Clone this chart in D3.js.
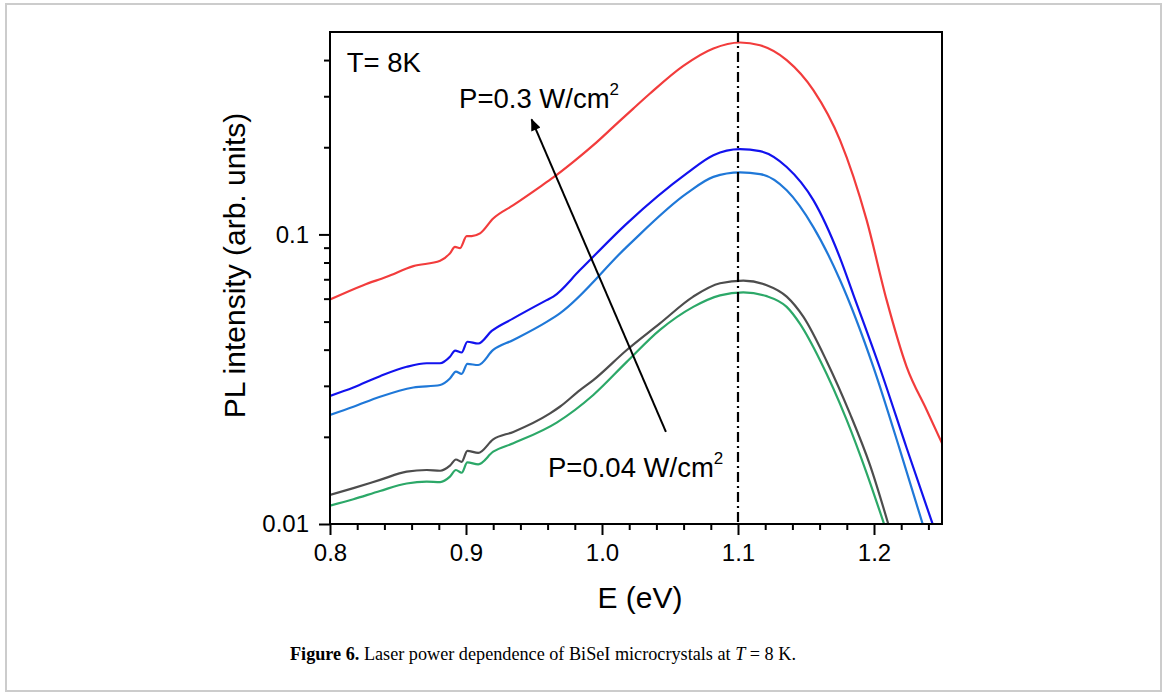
<!DOCTYPE html>
<html>
<head>
<meta charset="utf-8">
<script src="https://cdn.jsdelivr.net/npm/d3@7"></script>
<style>
  html, body { margin: 0; padding: 0; background: #fff; }
  svg { display: block; }
</style>
</head>
<body>
<div id="chart"></div>
<script>
// PL spectra: [E (eV), intensity (arb. units)]
const red = [
  [0.800, 0.0596], [0.8245, 0.0668], [0.8417, 0.0714], [0.8613, 0.0777], [0.881, 0.0811],
  [0.8882, 0.0860], [0.8919, 0.0906], [0.8956, 0.0897], [0.9005, 0.0987], [0.9042, 0.0987],
  [0.9103, 0.1008], [0.920, 0.1135], [0.9348, 0.1262], [0.9544, 0.146], [0.9642, 0.1573],
  [0.9789, 0.178], [0.9936, 0.2033], [1.0083, 0.2351], [1.023, 0.272], [1.0353, 0.3066],
  [1.0598, 0.382], [1.0819, 0.4387], [1.1015, 0.46], [1.1162, 0.450], [1.1358, 0.40],
  [1.1554, 0.315], [1.175, 0.2117], [1.1946, 0.112], [1.2093, 0.0593],
  [1.224, 0.0349], [1.2388, 0.0247], [1.25, 0.019]
];
const blue = [
  [0.800, 0.0277], [0.8172, 0.0296], [0.8368, 0.0324], [0.8564, 0.0349], [0.8711, 0.0359],
  [0.8809, 0.0359], [0.8882, 0.0378], [0.892, 0.0397], [0.8968, 0.0391], [0.901, 0.0426],
  [0.909, 0.042], [0.9189, 0.0464], [0.9348, 0.0513], [0.9593, 0.0593], [0.9642, 0.061],
  [0.9838, 0.0753], [1.0182, 0.109], [1.0623, 0.1624], [1.0819, 0.1878], [1.1015, 0.197],
  [1.1162, 0.194], [1.1358, 0.171], [1.1554, 0.1313], [1.175, 0.083], [1.1848, 0.062],
  [1.2044, 0.0345], [1.224, 0.0183], [1.2431, 0.01]
];
const lightBlue = [
  [0.800, 0.0238], [0.8172, 0.0254], [0.8368, 0.0275], [0.8613, 0.0296], [0.881, 0.0302],
  [0.8882, 0.0318], [0.8926, 0.0336], [0.8968, 0.033], [0.901, 0.0357], [0.909, 0.0354],
  [0.920, 0.0399], [0.9348, 0.0432], [0.9593, 0.0499], [0.969, 0.0534], [1.0182, 0.0906],
  [1.0623, 0.1385], [1.0819, 0.158], [1.1015, 0.1637], [1.1162, 0.1616], [1.1358, 0.142],
  [1.1554, 0.106], [1.175, 0.0696], [1.1995, 0.0349], [1.2191, 0.018],
  [1.2358, 0.01]
];
const gray = [
  [0.800, 0.0126], [0.8172, 0.0133], [0.8368, 0.0142], [0.8564, 0.01516], [0.8711, 0.01536],
  [0.881, 0.01527], [0.8882, 0.0159], [0.8926, 0.0167], [0.8968, 0.0164], [0.901, 0.0179],
  [0.909, 0.0176], [0.920, 0.0196], [0.9348, 0.0208], [0.9618, 0.0241], [0.969, 0.0254],
  [0.9838, 0.029], [0.9936, 0.0314], [1.0182, 0.0399], [1.0426, 0.0493], [1.0671, 0.061],
  [1.0868, 0.0678], [1.1039, 0.0692], [1.1211, 0.0668], [1.1358, 0.061], [1.148, 0.052],
  [1.1652, 0.0365], [1.1824, 0.024], [1.197, 0.016], [1.2105, 0.01]
];
const green = [
  [0.800, 0.01157], [0.8172, 0.01217], [0.8368, 0.013], [0.8564, 0.0138], [0.8711, 0.014],
  [0.881, 0.01396], [0.8882, 0.01457], [0.8926, 0.01536], [0.8968, 0.01503], [0.901, 0.01633],
  [0.909, 0.01607], [0.920, 0.01777], [0.9348, 0.019], [0.9667, 0.0224], [0.9936, 0.0279],
  [1.0182, 0.0363], [1.0426, 0.0468], [1.0671, 0.0562], [1.0868, 0.0616], [1.1039, 0.0631],
  [1.1211, 0.0612], [1.1358, 0.0562], [1.1456, 0.0491], [1.1603, 0.0368], [1.1799, 0.0229],
  [1.1946, 0.015], [1.2074, 0.01]
];

const seriesColors = ["#f23c3c", "#1212ee", "#1f78d8", "#4d4d4d", "#2ca868"];

const xMajor = [0.8, 0.9, 1.0, 1.1, 1.2];
const xMinor = [0.82, 0.84, 0.86, 0.88, 0.92, 0.94, 0.96, 0.98, 1.02, 1.04, 1.06, 1.08,
                1.12, 1.14, 1.16, 1.18, 1.22, 1.24];
const yMajor = [0.01, 0.1];
const yLabels = ["0.01", "0.1"];
const yMinor = [0.02, 0.03, 0.04, 0.05, 0.06, 0.07, 0.08, 0.09, 0.2, 0.3, 0.4];

const peakE = 1.1;
const arrowFrom = [1.047, 0.0208];
const arrowTo = [0.9482, 0.2495];
const tempLabel = [0.8123, 0.364];
const highLabel = [0.8949, 0.273];
const lowLabel = [0.9603, 0.01457];

(function () {
  const W = 1165, H = 693;
  const margin = { top: 32, left: 330 };
  const width = 612, height = 492;
  const font = "'Liberation Sans', Arial, Helvetica, sans-serif";

  const svg = d3.select("#chart").append("svg")
    .attr("width", W).attr("height", H);

  // page frame
  svg.append("rect")
    .attr("x", 6).attr("y", 4).attr("width", 1155).attr("height", 687)
    .attr("fill", "#fff").attr("stroke", "#cccccc").attr("stroke-width", 2);

  const g = svg.append("g").attr("transform", `translate(${margin.left},${margin.top})`);

  const x = d3.scaleLinear().domain([0.8, 1.25]).range([0, width]);
  const y = d3.scaleLog().domain([0.01, 0.5]).range([height, 0]);

  svg.append("defs").append("clipPath").attr("id", "plot-clip")
    .append("rect").attr("width", width).attr("height", height);

  const styleAxis = (sel) => {
    sel.select(".domain").remove();
    sel.selectAll(".tick line").attr("stroke", "#000").attr("stroke-width", 2);
    sel.selectAll(".tick text").attr("fill", "#000")
      .style("font-family", font).style("font-size", "24px");
  };

  // x axis
  g.append("g").attr("transform", `translate(0,${height})`)
    .call(d3.axisBottom(x).tickValues(xMinor).tickSize(6).tickFormat(""))
    .call(styleAxis);
  g.append("g").attr("transform", `translate(0,${height})`)
    .call(d3.axisBottom(x).tickValues(xMajor).tickSize(11).tickPadding(9)
      .tickFormat(d3.format(".1f")))
    .call(styleAxis);

  // y axis
  g.append("g")
    .call(d3.axisLeft(y).tickValues(yMinor).tickSize(6).tickFormat(""))
    .call(styleAxis);
  g.append("g")
    .call(d3.axisLeft(y).tickValues(yMajor).tickSize(11).tickPadding(10)
      .tickFormat((d, i) => yLabels[i]))
    .call(styleAxis);

  // curves
  const line = d3.line()
    .x((d) => x(d[0]))
    .y((d) => y(d[1]))
    .curve(d3.curveMonotoneX);

  const plot = g.append("g").attr("clip-path", "url(#plot-clip)");
  [red, blue, lightBlue, gray, green].forEach((s, i) => {
    plot.append("path")
      .datum(s)
      .attr("d", line)
      .attr("fill", "none")
      .attr("stroke", seriesColors[i])
      .attr("stroke-width", 2.2)
      .attr("stroke-linejoin", "round");
  });

  // peak marker (dash-dot)
  g.append("line")
    .attr("x1", x(peakE)).attr("x2", x(peakE))
    .attr("y1", 0).attr("y2", height)
    .attr("stroke", "#000").attr("stroke-width", 2.2)
    .attr("stroke-dasharray", "10,4,2,4");

  // frame
  g.append("rect")
    .attr("width", width).attr("height", height)
    .attr("fill", "none").attr("stroke", "#000").attr("stroke-width", 2);

  // arrow
  svg.select("defs").append("marker")
    .attr("id", "arrow-head")
    .attr("viewBox", "0 0 12 10")
    .attr("refX", 11).attr("refY", 5)
    .attr("markerUnits", "userSpaceOnUse")
    .attr("markerWidth", 14).attr("markerHeight", 10)
    .attr("orient", "auto")
    .append("path").attr("d", "M0,0 L12,5 L0,10 Z").attr("fill", "#000");

  g.append("line")
    .attr("x1", x(arrowFrom[0])).attr("y1", y(arrowFrom[1]))
    .attr("x2", x(arrowTo[0])).attr("y2", y(arrowTo[1]))
    .attr("stroke", "#000").attr("stroke-width", 2)
    .attr("marker-end", "url(#arrow-head)");

  // annotations
  const note = (pos, txt, sup) => {
    const t = g.append("text")
      .attr("x", x(pos[0])).attr("y", y(pos[1]))
      .style("font-family", font).style("font-size", "27.5px").attr("fill", "#000")
      .text(txt);
    if (sup) {
      t.append("tspan").attr("dy", -13).style("font-size", "17px").text(sup);
    }
  };
  note(tempLabel, "T= 8K");
  note(highLabel, "P=0.3 W/cm", "2");
  note(lowLabel, "P=0.04 W/cm", "2");

  // axis titles
  svg.append("text")
    .attr("x", 640).attr("y", 608)
    .attr("text-anchor", "middle")
    .style("font-family", font).style("font-size", "30px")
    .text("E (eV)");

  svg.append("text")
    .attr("transform", "translate(245,265.5) rotate(-90)")
    .attr("text-anchor", "middle")
    .style("font-family", font).style("font-size", "30px")
    .text("PL intensity (arb. units)");

  // caption
  const cap = svg.append("text")
    .attr("x", 290).attr("y", 660)
    .style("font-family", "'Liberation Serif', 'Times New Roman', serif")
    .style("font-size", "18.2px").attr("fill", "#000");
  cap.append("tspan").attr("font-weight", "bold").text("Figure 6.");
  cap.append("tspan").text(" Laser power dependence of BiSeI microcrystals at ");
  cap.append("tspan").attr("font-style", "italic").text("T");
  cap.append("tspan").text(" = 8 K.");
})();
</script>
</body>
</html>
